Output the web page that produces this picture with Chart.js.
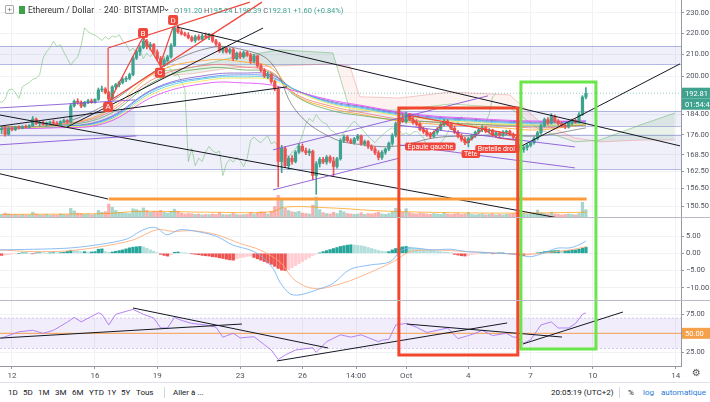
<!DOCTYPE html>
<html>
<head>
<meta charset="utf-8">
<title>Ethereum / Dollar 240</title>
<script src="https://cdn.jsdelivr.net/npm/chart.js@4.4.1/dist/chart.umd.min.js"></script>
<style>
  html, body { margin: 0; padding: 0; background: #fff; }
  #wrap { position: relative; width: 710px; height: 402px; overflow: hidden; font-family: Roboto, "DejaVu Sans", sans-serif; color: #131722; }
  canvas { position: absolute; left: 0; }
  #cPrice { top: 0; }
  #cMacd { top: 218px; }
  #cRsi { top: 301px; }
  .sep { position: absolute; left: 0; width: 710px; height: 1px; background: #b8bbc3; }
  #hdr { position: absolute; left: 0; top: 0; height: 20px; width: 400px; font-size: 8.5px; color: #333; }
  #hdr span { position: absolute; top: 5px; white-space: nowrap; }
  #hdr .ic { left: 5px; top: 5px; width: 7px; height: 7px; border: 1px solid #aaa; border-radius: 1px; font-size: 8px; line-height: 7px; text-align: center; color: #777; }
  #hdr .sq { left: 19px; top: 6px; width: 6px; height: 8px; background: #3fa24a; }
  #hdr .ohlc { left: 174px; top: 6px; font-size: 7.5px; color: #3fa28f; }
  #hdr .ohlc i { font-style: normal; color: #666; }
  #bar { position: absolute; left: 0; top: 382px; width: 710px; height: 20px; border-top: 1px solid #e0e3eb; font-size: 8px; color: #131722; }
  #bar span { position: absolute; top: 5px; white-space: nowrap; }
  #bar .blue { color: #2a7bd8; }
  #bar .dv { width: 1px; height: 11px; top: 4px; background: #d6d8de; }
  #gear { position: absolute; left: 692px; top: 367px; font-size: 10px; color: #555; }
</style>
</head>
<body>
<div id="wrap">
  <canvas id="cPrice" width="710" height="217"></canvas>
  <div class="sep" style="top:217px"></div>
  <canvas id="cMacd" width="710" height="82"></canvas>
  <div class="sep" style="top:300px"></div>
  <canvas id="cRsi" width="710" height="81"></canvas>
  <div id="hdr">
    <span class="ic">+</span><span class="sq"></span>
    <span style="left:28px">Ethereum / Dollar</span>
    <span style="left:99px">·</span>
    <span style="left:104px">240</span>
    <span style="left:119px">·</span>
    <span style="left:124px">BITSTAMP</span>
    <span style="left:163px;top:3px">⌄</span>
    <span class="ohlc"><i>O</i>191.20 <i>H</i>195.24 <i>L</i>190.39 <i>C</i>192.81 +1.60 (+0.84%)</span>
  </div>
  <div id="gear">⚙</div>
  <div id="bar">
    <span style="left:8px">1D</span><span style="left:23px">5D</span><span style="left:38px">1M</span>
    <span style="left:55px">3M</span><span style="left:72px">6M</span><span style="left:89px">YTD</span>
    <span style="left:107px">1Y</span><span style="left:121px">5Y</span><span style="left:136px">Tous</span>
    <span class="dv" style="left:164px"></span>
    <span style="left:173px">Aller à ...</span>
    <span style="left:551px">20:05:19 (UTC+2)</span>
    <span class="dv" style="left:619px"></span>
    <span style="left:628px">%</span>
    <span class="blue" style="left:643px">log</span>
    <span class="blue" style="left:661px">automatique</span>
  </div>
</div>
<script>
// ---- axes ----
const X_MIN = -0.47, X_MAX = 196.5;   // candle index range of the plot width
const dateTicks = [3, 27, 45, 69, 87, 102.5, 117, 135, 153, 171, 195];
const dateLabels = ['12', '16', '19', '23', '26', '14:00', 'Oct', '4', '7', '10', '14'];
const priceTicks = [150.5, 156.5, 162.5, 168.5, 176, 184, 200, 210, 220, 230];
const macdTicks = [-10, -5, 0, 5];
const rsiTicks = [25, 50, 75];

// ---- 4h candles: [open, high, low, close] ----
const ohlc = [
  [178.0,179.0,176.5,178.5],[178.5,179.2,175.5,176.2],[176.2,178.8,175.8,178.5],[178.5,179.0,177.5,178.0],
  [178.0,179.3,177.6,179.0],[179.0,179.5,178.2,178.6],[178.6,179.6,178.3,179.3],[179.3,179.8,178.6,178.9],
  [178.9,180.0,178.7,179.6],[179.6,183.2,179.2,182.2],[182.2,182.6,180.0,180.4],[180.4,181.2,179.5,180.8],
  [180.8,181.5,179.8,180.0],[180.0,181.0,179.4,180.6],[180.6,181.4,180.0,181.0],[181.0,181.8,180.2,180.5],
  [180.5,181.2,179.6,180.0],[180.0,181.5,179.8,181.2],[181.2,182.2,180.8,181.6],[181.6,182.0,180.6,181.0],
  [181.0,188.5,180.6,187.6],[187.6,190.0,187.0,189.4],[189.4,190.5,188.2,189.0],[189.0,189.6,186.8,187.4],
  [187.4,189.4,187.0,189.0],[189.0,190.2,188.4,189.6],[189.6,190.4,188.6,189.0],[189.0,190.5,188.6,190.2],
  [190.2,195.0,189.8,194.2],[194.2,195.8,193.5,194.6],[194.6,195.2,192.5,193.0],[193.0,193.6,189.2,190.6],
  [190.6,196.0,190.2,195.5],[195.5,197.0,194.5,196.5],[196.5,198.0,195.5,197.4],[197.4,199.5,196.8,198.8],
  [198.8,200.0,197.8,199.2],[199.2,201.5,198.5,200.8],[200.8,209.0,200.2,208.2],[208.2,212.0,207.5,211.2],
  [211.2,214.0,209.5,213.0],[213.0,217.6,212.5,216.0],[216.0,217.0,212.5,213.5],[213.5,215.5,212.0,214.5],
  [214.5,215.0,210.0,211.0],[211.0,212.0,207.0,208.0],[208.0,209.0,203.8,205.0],[205.0,208.0,204.5,207.2],
  [207.2,209.5,206.5,208.8],[208.8,215.0,208.2,214.0],[214.0,223.5,213.5,222.5],[222.5,223.2,219.8,220.6],
  [220.6,221.8,219.0,219.6],[219.6,220.5,218.5,219.0],[219.0,220.2,217.2,217.8],[217.8,218.6,215.8,216.4],
  [216.4,219.0,215.5,218.2],[218.2,219.2,216.5,217.0],[217.0,219.5,216.5,218.6],[218.6,220.0,217.5,218.0],
  [218.0,219.8,216.8,219.2],[219.2,219.6,215.5,216.2],[216.2,217.0,214.0,214.8],[214.8,215.5,210.8,211.5],
  [211.5,213.5,210.5,212.8],[212.8,213.2,210.5,211.0],[211.0,212.8,210.2,212.2],[212.2,212.8,207.0,208.0],
  [208.0,211.0,207.5,210.5],[210.5,211.2,208.0,208.8],[208.8,211.5,208.2,210.8],[210.8,211.5,209.0,209.6],
  [209.6,210.5,205.8,206.8],[206.8,210.0,206.0,209.2],[209.2,209.6,204.0,204.8],[204.8,205.5,202.0,202.8],
  [202.8,203.5,199.5,200.2],[200.2,201.8,199.0,201.0],[201.0,201.5,197.0,197.8],[197.8,198.5,193.8,194.6],
  [194.6,195.5,157.0,166.0],[166.0,172.0,162.0,170.8],[170.8,171.5,163.8,164.5],[164.5,168.0,163.2,167.2],
  [167.2,168.2,165.0,166.0],[166.0,170.0,165.5,169.5],[169.5,172.5,169.0,171.6],[171.6,172.5,169.5,170.0],
  [170.0,171.0,168.5,169.2],[169.2,170.6,168.2,169.8],[169.8,170.2,159.5,161.0],[161.0,166.0,154.5,165.2],
  [165.2,167.5,164.0,166.8],[166.8,167.5,165.2,165.8],[165.8,168.2,165.0,167.6],[167.6,168.2,165.5,166.2],
  [166.2,167.6,161.0,164.2],[164.2,167.5,163.6,167.0],[167.0,174.5,166.5,173.8],[173.8,176.0,173.0,175.2],
  [175.2,175.8,173.2,173.8],[173.8,174.5,172.6,173.0],[173.0,175.0,172.4,174.5],[174.5,176.2,173.8,175.6],
  [175.6,176.0,172.0,172.5],[172.5,174.0,171.8,173.4],[173.4,173.8,170.8,171.6],[171.6,172.2,170.0,170.6],
  [170.6,171.4,168.5,169.2],[169.2,170.0,166.6,167.5],[167.5,170.0,166.8,169.4],[169.4,171.0,168.6,170.6],
  [170.6,173.2,170.0,172.8],[172.8,176.5,172.0,175.8],[175.8,181.0,175.2,180.4],[180.4,183.0,179.0,182.5],
  [182.5,184.0,180.8,181.2],[181.2,185.0,180.6,184.0],[184.0,184.5,181.5,182.0],[182.0,183.0,180.2,180.8],
  [180.8,182.0,179.5,180.2],[180.2,180.8,177.5,178.0],[178.0,179.0,176.5,177.2],[177.2,178.2,175.5,176.0],
  [176.0,177.0,174.6,175.4],[175.4,177.5,175.0,177.0],[177.0,178.8,176.2,178.2],[178.2,180.5,177.6,180.0],
  [180.0,182.2,179.4,181.4],[181.4,182.0,179.6,180.0],[180.0,180.8,178.0,178.6],[178.6,179.4,176.5,177.0],
  [177.0,177.6,174.8,175.4],[175.4,176.4,173.5,174.2],[174.2,175.0,172.2,173.0],[173.0,175.0,171.4,174.6],
  [174.6,176.2,174.0,175.6],[175.6,177.5,175.0,177.0],[177.0,178.6,176.5,178.0],[178.0,179.6,177.2,178.8],
  [178.8,179.2,176.8,177.4],[177.4,178.4,176.6,177.8],[177.8,178.2,175.4,176.0],[176.0,177.4,175.0,176.8],
  [176.8,177.2,175.2,175.8],[175.8,177.6,175.4,177.0],[177.0,177.8,176.0,177.4],[177.4,177.8,175.6,176.2],
  [176.2,176.8,174.4,175.0],[175.0,175.6,171.0,171.8],[171.8,172.4,169.6,170.4],[170.4,171.8,169.4,171.2],
  [171.2,172.6,170.2,172.0],[172.0,173.6,171.4,173.0],[173.0,175.2,172.4,174.6],[174.6,177.4,174.0,176.8],
  [176.8,180.2,176.2,179.6],[179.6,182.6,179.0,182.0],[182.0,182.8,180.0,180.6],[180.6,184.4,180.2,183.2],
  [183.2,183.8,180.8,181.4],[181.4,182.0,179.8,180.4],[180.4,181.2,179.0,179.6],[179.6,180.4,178.4,179.0],
  [179.0,181.2,178.6,180.6],[180.6,182.2,180.0,181.6],[181.6,182.2,180.4,181.0],[181.0,184.8,180.6,184.0],
  [184.0,191.8,183.6,191.2],[191.2,195.24,190.39,192.81]
];
const volume = [
  12,18,14,10,12,9,11,8,10,22,14,10,9,12,8,10,9,14,12,10,
  40,28,18,16,12,14,10,12,30,22,
  25,60,45,30,22,20,18,16,38,34,
  28,42,30,22,26,24,30,22,18,26,
  36,26,18,14,16,15,12,14,10,12,
  11,14,12,20,12,10,12,18,12,10,
  11,12,20,14,18,24,22,14,26,48,
  100,82,40,30,24,22,26,18,16,14,
  55,92,34,20,16,14,22,16,30,24,
  16,14,12,14,20,12,16,14,18,22,
  14,12,16,26,40,34,22,38,20,16,
  14,18,16,14,12,16,14,12,20,14,
  12,14,16,12,14,20,12,10,12,14,
  10,12,14,10,12,10,12,14,16,24,
  20,16,12,14,18,32,20,16,14,22,
  14,12,10,12,14,12,10,16,68,34
];
const volMA = [[0,12],[30,16],[40,26],[60,22],[78,24],[82,46],[95,42],[110,28],[130,20],[150,18],[169,22]];

// ---- moving-average ribbon, sampled at these candle indices ----
const ribbonIdx = [0, 15, 30, 45, 60, 70, 78, 85, 95, 105, 115, 125, 135, 145, 155, 169];
const maOrange  = [179.1,179.8,185.0,202.0,207.4,206.5,203.8,192.1,186.7,183.8,181.4,180.2,179.5,178.7,177.9,180.2];
const maSalmon  = [179.1,179.8,184.2,199.8,205.1,204.2,202.0,192.5,187.5,184.6,182.2,181.0,180.2,179.5,178.7,179.8];
const maGreen   = [179.1,179.5,183.4,198.5,203.8,202.9,201.5,191.6,185.8,183.4,181.8,181.0,180.2,179.8,179.5,179.8];
const maPurple  = [178.7,179.1,182.2,195.4,200.7,201.5,200.7,194.2,189.5,187.1,184.6,183.0,182.2,181.4,181.0,181.4];
const maBlue    = [178.7,179.1,181.8,195.0,199.8,200.7,199.8,194.2,189.1,186.7,184.2,182.6,181.8,181.0,180.6,181.0];
const maCyan    = [178.7,179.1,181.4,194.2,199.3,199.8,199.3,194.2,188.7,186.3,183.8,182.2,181.4,180.6,180.2,180.6];
const maYellow  = [178.7,179.1,181.0,193.3,198.5,199.3,198.5,193.7,188.3,185.8,183.4,181.8,181.0,180.2,179.8,180.2];
const maMagenta = [178.7,178.7,180.6,192.1,197.2,197.2,196.3,193.7,190.0,187.5,185.0,183.4,182.6,181.8,181.4,181.4];
const maGrey    = [178.7,179.8,187.9,202.9,212.9,212.0,206.0,185.8,175.2,172.1,171.8,174.8,175.6,176.0,175.6,178.7];

// ---- ichimoku cloud spans ----
const cloudIdx = [43.8, 54.5, 66.1, 80.5, 95.8, 100.7, 103.6, 115.2, 129.7, 147.0, 155.7, 165.8, 173.0, 184.6, 194.7];
const spanA = [202.0,203.8,208.3,212.0,210.6,185.8,185.8,185.8,188.3,186.7,177.9,173.3,174.0,179.8,184.6];
const spanB = [200.2,201.1,203.8,204.7,205.6,204.7,191.3,190.8,193.3,192.1,181.0,174.8,173.3,174.0,174.0];

// ---- drawings on the price panel: [candle index, price] ----
const zones = [[205.6, 213.8], [179.5, 185.5], [163.3, 176.0]];
const leftZone = [-0.5, 38.6, 175.2, 185.5];
const blackLines = [
  [[-0.5,183.8],[161.5,146.6]],
  [[50.7,222.9],[196.2,171.8]],
  [[-0.5,161.6],[30.8,152.9]],
  [[18.9,179.0],[75.6,222.4]],
  [[-0.5,179.4],[82.5,195.5]],
  [[149.9,171.4],[196.2,205.6]]
];
const purpleLines = [
  [[-0.5,186.7],[38.6,190.0]],
  [[-0.5,172.2],[39.0,175.6]],
  [[78.5,156.0],[115.2,167.3]],
  [[78.5,170.3],[140.7,191.7]],
  [[114.6,179.8],[165.8,171.4]],
  [[114.6,172.2],[165.8,163.7]]
];
const abcdLines = [
  [[31.3,189.6],[40.9,218.1],[45.8,205.1],[49.6,222.9]],
  [[30.8,189.6],[30.8,212.9]],
  [[30.8,212.9],[71.8,235.4]],
  [[31.3,189.6],[75.3,235.4]]
];
const hsLines = [
  [[117.5,183.8],[123.9,175.9],[128.2,181.0],[134.6,172.9],[139.2,178.3],[143.6,174.8],[148.5,174.0]],
  [[117.5,183.8],[149.1,175.9]]
];
const supportLine = [[31.0,152.9],[169.2,152.9]];
const abcdLabels = ['A', 'B', 'C', 'D'];
const abcdPts = [[30.8,187.1],[40.9,220.0],[45.8,201.6],[49.6,226.3]];
const hsLabels = ['Épaule gauche', 'Tête', 'Bretelle droi'];
const hsPts = [[124.0,171.6],[135.7,168.8],[143.1,170.6]];
const lastPrice = 192.81, countdown = '01:54:41';
// boxes across the three panels: x range, top price, bottom RSI value
const redBox = { x0: 114.9, x1: 149.3, top: 186.7, rsiBottom: 21.4 };
const greenBox = { x0: 150.2, x1: 171.9, top: 197.6, rsiBottom: 29.4 };

// ---- MACD ----
const macdHist = [
  -0.6,-0.5,-0.4,
  -0.2,-0.1,0,0.1,0.1,0,-0.1,0.1,0.2,0.1,0,0.1,0.2,0.1,0.2,0.3,
  0.6,0.9,0.8,0.7,0.5,0.5,0.4,0.4,0.5,1.2,1.3,0.5,0.3,
  0.4,0.6,0.8,1.0,1.3,1.6,1.8,1.9,2.0,1.9,1.5,1.0,0.6,0.2,
  -0.3,-0.6,-0.8,-0.4,0.3,0.4,0.2,0.1,0,-0.1,
  -0.3,-0.4,-0.6,-0.7,-0.8,-1.0,-1.1,-1.3,-1.5,-1.7,-1.9,-2.0,
  -1.6,-1.3,-1.1,-0.9,-0.8,
  -1.2,-1.6,-2.0,-2.4,-2.8,-3.2,-3.8,-4.4,-4.9,-5.0,-4.8,
  -4.2,-3.6,-3.0,-2.4,-1.8,-1.2,-0.6,-0.2,0.1,
  0.5,0.8,1.1,1.4,1.7,2.0,2.2,2.4,2.5,2.4,2.3,2.2,
  2.0,1.7,1.4,1.1,0.8,0.6,0.5,0.5,
  1.0,1.4,1.7,1.9,2.0,1.8,
  1.6,1.4,1.3,1.1,1.0,0.9,0.8,0.6,0.5,0.4,0.3,0.2,
  -0.3,-0.5,-0.7,-0.8,-0.6,-0.4,
  -0.2,-0.1,0.1,0.1,0,-0.1,0,0.1,0.1,0,-0.1,-0.2,-0.4,
  -0.6,-0.7,-0.5,-0.3,-0.2,0.1,0.3,
  0.5,0.6,0.7,0.8,0.8,0.7,0.7,0.8,0.9,1.0,1.2,1.5,1.8
];
const macdLine = [[-0.5,1.0],[18.9,1.5],[28.5,2.6],[36.3,4.2],[40,6.4],[42.9,7.5],[44.9,7.4],[47.8,5.4],[51.6,6.9],
  [57.4,6.2],[62.3,4.9],[66.9,2.4],[71.8,1.0],[74.7,-0.5],[78.5,-4.4],[80.5,-8.4],[83.4,-11.8],[86.3,-12.1],
  [92.1,-10.3],[95.8,-8.8],[100.7,-4.7],[106.5,-3.4],[112.3,-2.5],[115.2,0.5],[117.2,1.5],[120.1,1.5],
  [124.7,1.0],[129.7,1.2],[134.6,0.5],[139.2,0.3],[144.1,0],[149.0,-0.3],[152.8,-1.0],[156.6,0],[160.6,1.5],
  [164.4,1.6],[167.3,2.6],[169,3.6]];
const signalLine = [[-0.5,1.0],[9.1,0.5],[18.9,0.7],[28.5,1.9],[38,3.9],[44.9,6.9],[49.6,6.4],[55.4,6.6],[62.3,5.4],
  [68.9,2.9],[74.7,1.0],[80.5,-2.5],[84.3,-7.4],[88.3,-9.8],[92.1,-10.3],[95.8,-9.5],[100.7,-8.0],[106.5,-5.6],
  [113.2,-2.5],[118.1,0.5],[124.7,1.0],[134.6,0.5],[144.1,0],[151.9,-0.3],[158.6,0.3],[164.4,1.0],[169,1.9]];

// ---- RSI ----
const rsiLine = [[0,43.7],[5,52],[9,54],[12,50],[15,54],[19,64.7],[21,71],[23,65],[28,77],[29,75],[31,61],[33,75],
  [38,81.5],[41,75],[44,70],[46,57],[48,57],[50,71],[52,67],[55,63],[59,61],[62,58],[64,45],[67,50],[69,44],
  [73,45.5],[76,35],[78,28],[80,15.5],[82,21.5],[85,28],[90,31],[91,25],[94,39],[98,48],[101,45],[104,48],
  [109,39],[110,41],[112,42],[114,61],[117,63],[120,58],[123,51],[126,54],[129,57],[132,43],[135,47],[137,50],
  [139,54],[142,47],[146,50],[148,45],[149,45],[151,37],[153,41.5],[156,61],[159,65],[161,57],[164,57],
  [166,63],[168,75],[169,77]];
const rsiTrends = [
  [[-0.5,43.7],[69.5,62.2]],
  [[38,83.3],[94.4,30.7]],
  [[79.6,13.6],[146.2,63.6]],
  [[117.2,62.2],[162.1,45.1]],
  [[150.8,36],[179.7,78]]
];

// ---------------------------------------------------------------
const UP = '#3fa28f', DOWN = '#ef5350';
Chart.defaults.font.family = 'Roboto, "DejaVu Sans", sans-serif';

function xAxis(withLabels) {
  return {
    type: 'linear', min: X_MIN, max: X_MAX, offset: false,
    afterBuildTicks: s => { s.ticks = dateTicks.map(v => ({ value: v })); },
    afterFit: s => { s.height = withLabels ? 16 : 0; s.paddingLeft = 0; s.paddingRight = 0; },
    ticks: { display: withLabels, autoSkip: false, maxRotation: 0, padding: 2, color: '#50535e',
             font: { size: 8 }, callback: (v, i) => dateLabels[i] },
    grid: { color: '#f1f2f6', offset: false, drawTicks: withLabels, tickLength: 3, tickColor: '#9598a1' },
    border: { display: withLabels, color: '#9598a1' }
  };
}
function yAxis(ticks, fmt, extra) {
  return Object.assign({
    position: 'right',
    afterBuildTicks: s => { s.ticks = ticks.map(v => ({ value: v })); },
    afterFit: s => { s.width = 29; s.paddingTop = 0; s.paddingBottom = 0; },
    ticks: { autoSkip: false, padding: 2, color: '#50535e', font: { size: 7.5 }, callback: fmt },
    grid: { color: '#f1f2f6', tickLength: 3, tickColor: '#9598a1' },
    border: { color: '#9598a1' }
  }, extra);
}
function line(points, color, width, extra) {
  return Object.assign({
    type: 'line', data: points.map(p => ({ x: p[0], y: p[1] })),
    borderColor: color, borderWidth: width, pointRadius: 0, fill: false, tension: 0, order: 10
  }, extra);
}
function sampled(idx, vals) { return idx.map((x, k) => [x, vals[k]]); }
const baseOpts = {
  responsive: false, animation: false, devicePixelRatio: 1, events: [],
  layout: { padding: 0 }
};

// horizontal zones behind the candles
const zonePlugin = {
  id: 'zones',
  beforeDatasetsDraw(chart) {
    const { ctx, chartArea: a, scales: { x, y } } = chart;
    ctx.save();
    ctx.beginPath(); ctx.rect(a.left, a.top, a.width, a.height); ctx.clip();
    const box = (x0, x1, lo, hi, edge) => {
      const yt = y.getPixelForValue(hi), yb = y.getPixelForValue(lo);
      ctx.fillStyle = 'rgba(110,118,200,0.11)';
      ctx.fillRect(x0, yt, x1 - x0, yb - yt);
      if (edge) {
        ctx.strokeStyle = 'rgba(120,128,205,0.55)'; ctx.lineWidth = 1;
        ctx.beginPath();
        ctx.moveTo(x0, Math.round(yt) + 0.5); ctx.lineTo(x1, Math.round(yt) + 0.5);
        ctx.moveTo(x0, Math.round(yb) + 0.5); ctx.lineTo(x1, Math.round(yb) + 0.5);
        ctx.stroke();
      }
    };
    zones.forEach(z => box(a.left, a.right, z[0], z[1], true));
    box(x.getPixelForValue(leftZone[0]), x.getPixelForValue(leftZone[1]), leftZone[2], leftZone[3], false);
    ctx.restore();
  }
};

// text tags: pattern letters, pattern names, price tags on the axis
function roundBox(ctx, cx, cy, w, h, color) {
  ctx.fillStyle = color;
  ctx.beginPath(); ctx.roundRect(cx - w / 2, cy - h / 2, w, h, 2); ctx.fill();
}
const tagPlugin = {
  id: 'tags',
  afterDraw(chart, args, opts) {
    const { ctx, chartArea: a, scales: { x, y } } = chart;
    ctx.save();
    ctx.textAlign = 'center'; ctx.textBaseline = 'middle';
    (opts.marks || []).forEach(m => {
      const px = x.getPixelForValue(m.at[0]), py = y.getPixelForValue(m.at[1]);
      ctx.font = m.font;
      const w = m.w || ctx.measureText(m.text).width + 5;
      roundBox(ctx, px, py, w, m.h, '#f0453a');
      ctx.fillStyle = '#fff'; ctx.fillText(m.text, px, py + 0.5);
    });
    (opts.axisTags || []).forEach(t => {
      const py = y.getPixelForValue(t.value) + (t.dy || 0);
      ctx.fillStyle = t.color;
      ctx.fillRect(a.right + 1, py - 5.5, chart.width - a.right - 1, 11);
      ctx.fillStyle = '#fff'; ctx.textAlign = 'left'; ctx.font = '7.5px Roboto, "DejaVu Sans", sans-serif';
      ctx.fillText(t.text, a.right + 4, py + 0.5);
    });
    ctx.restore();
  }
};

// ---------------- price panel ----------------
const priceSets = [];
priceSets.push({ type: 'bar', yAxisID: 'yVol', grouped: false, barThickness: 2.6, order: 100,
  data: volume.map((v, i) => ({ x: i, y: v })),
  backgroundColor: ohlc.map(d => d[3] >= d[0] ? 'rgba(63,162,143,0.45)' : 'rgba(239,83,80,0.45)') });
priceSets.push(line(volMA, 'rgba(255,152,0,0.7)', 1, { yAxisID: 'yVol', order: 99, tension: 0.4 }));
priceSets.push(line(sampled(cloudIdx, spanA), 'rgba(76,175,80,0.45)', 1,
  { order: 95, fill: { target: '+1', above: 'rgba(76,150,90,0.13)', below: 'rgba(244,67,54,0.07)' } }));
priceSets.push(line(sampled(cloudIdx, spanB), 'rgba(239,83,80,0.3)', 1, { order: 95 }));
priceSets.push(line(ohlc.map((d, i) => [i - 26, d[3]]), 'rgba(110,185,110,0.55)', 1, { order: 90 }));
[[maMagenta, 'rgba(224,64,251,0.8)'], [maYellow, 'rgba(250,230,90,0.9)'], [maCyan, 'rgba(77,208,225,0.85)'],
 [maBlue, 'rgba(66,140,245,0.8)'], [maPurple, 'rgba(126,87,194,0.8)'], [maGreen, 'rgba(102,170,90,0.8)'],
 [maSalmon, 'rgba(240,120,120,0.8)'], [maOrange, 'rgba(255,167,38,0.85)'], [maGrey, 'rgba(80,80,80,0.6)']]
  .forEach(([vals, c]) => priceSets.push(line(sampled(ribbonIdx, vals), c, 1, { order: 80, tension: 0.4 })));
priceSets.push(line([[X_MIN, lastPrice], [X_MAX, lastPrice]], 'rgba(63,162,143,0.55)', 1, { order: 70, borderDash: [1, 2] }));
priceSets.push({ type: 'bar', grouped: false, barThickness: 1, order: 50,
  data: ohlc.map((d, i) => ({ x: i, y: [d[2], d[1]] })),
  backgroundColor: ohlc.map(d => d[3] >= d[0] ? UP : DOWN) });
priceSets.push({ type: 'bar', grouped: false, barThickness: 2.6, order: 49,
  data: ohlc.map((d, i) => ({ x: i, y: [d[0], d[3]] })),
  backgroundColor: ohlc.map(d => d[3] >= d[0] ? UP : DOWN) });
purpleLines.forEach(p => priceSets.push(line(p, 'rgba(130,80,210,0.85)', 1)));
blackLines.forEach(p => priceSets.push(line(p, '#131722', 1)));
abcdLines.forEach(p => priceSets.push(line(p, '#f0453a', 1.2)));
hsLines.forEach(p => priceSets.push(line(p, '#f0453a', 1.2)));
priceSets.push(line(supportLine, '#ff9a3c', 3, { order: 5 }));
priceSets.push(line([[redBox.x0, 100], [redBox.x0, redBox.top], [redBox.x1, redBox.top], [redBox.x1, 100]], '#f2462d', 3, { order: 4 }));
priceSets.push(line([[greenBox.x0, 100], [greenBox.x0, greenBox.top], [greenBox.x1, greenBox.top], [greenBox.x1, 100]], '#6be64a', 3, { order: 4 }));

new Chart(document.getElementById('cPrice'), {
  type: 'bar',
  data: { datasets: priceSets },
  options: Object.assign({}, baseOpts, {
    plugins: {
      legend: { display: false }, tooltip: { enabled: false },
      tags: {
        marks: abcdLabels.map((t, k) => ({ text: t, at: abcdPts[k], w: 10, h: 10, font: '8px Roboto, "DejaVu Sans", sans-serif' }))
          .concat(hsLabels.map((t, k) => ({ text: t, at: hsPts[k], h: 8, font: '7px Roboto, "DejaVu Sans", sans-serif' }))),
        axisTags: [{ value: lastPrice, text: lastPrice.toFixed(2), color: UP },
                   { value: lastPrice, dy: 11, text: countdown, color: UP }]
      }
    },
    scales: {
      x: xAxis(false),
      y: yAxis(priceTicks, v => Number(v).toFixed(2), { type: 'logarithmic', min: 147.0, max: 236.5 }),
      yVol: { axis: 'y', type: 'linear', display: false, min: 0, max: 1000 }
    }
  }),
  plugins: [zonePlugin, tagPlugin]
});

// ---------------- MACD panel ----------------
const histColors = macdHist.map((v, i) => {
  const prev = i ? macdHist[i - 1] : v;
  if (v >= 0) return v >= prev ? '#26a69a' : '#b2dfdb';
  return v <= prev ? '#ef5350' : '#ffcdd2';
});
new Chart(document.getElementById('cMacd'), {
  type: 'bar',
  data: { datasets: [
    { type: 'bar', barThickness: 2.6, order: 20, data: macdHist.map((v, i) => ({ x: i, y: v })), backgroundColor: histColors },
    line(macdLine, 'rgba(120,180,245,0.85)', 1, { order: 10, tension: 0.3 }),
    line(signalLine, 'rgba(255,170,120,0.85)', 1, { order: 11, tension: 0.3 }),
    line([[redBox.x0, -50], [redBox.x0, 50]], '#f2462d', 3, { order: 4 }),
    line([[redBox.x1, -50], [redBox.x1, 50]], '#f2462d', 3, { order: 4 }),
    line([[greenBox.x0, -50], [greenBox.x0, 50]], '#6be64a', 3, { order: 4 }),
    line([[greenBox.x1, -50], [greenBox.x1, 50]], '#6be64a', 3, { order: 4 })
  ] },
  options: Object.assign({}, baseOpts, {
    plugins: { legend: { display: false }, tooltip: { enabled: false } },
    scales: {
      x: xAxis(false),
      y: yAxis(macdTicks, v => Number(v).toFixed(2).replace('-', '\u2212'), { type: 'linear', min: -13.6, max: 10.3 })
    }
  })
});

// ---------------- RSI panel ----------------
new Chart(document.getElementById('cRsi'), {
  type: 'line',
  data: { datasets: [
    line([[X_MIN, 70], [X_MAX, 70]], 'rgba(150,120,210,0.35)', 1, { order: 30, borderDash: [2, 2], fill: { target: '+1', above: 'rgba(150,110,220,0.12)', below: 'rgba(150,110,220,0.12)' } }),
    line([[X_MIN, 30], [X_MAX, 30]], 'rgba(150,120,210,0.35)', 1, { order: 30, borderDash: [2, 2] }),
    line([[X_MIN, 50], [X_MAX, 50]], '#f5a04a', 1, { order: 25 }),
    line(rsiLine, 'rgba(175,125,245,0.95)', 1, { order: 20 })
  ].concat(rsiTrends.map(p => line(p, '#131722', 1)), [
    line([[redBox.x0, 200], [redBox.x0, redBox.rsiBottom], [redBox.x1, redBox.rsiBottom], [redBox.x1, 200]], '#f2462d', 3, { order: 4 }),
    line([[greenBox.x0, 200], [greenBox.x0, greenBox.rsiBottom], [greenBox.x1, greenBox.rsiBottom], [greenBox.x1, 200]], '#6be64a', 3, { order: 4 })
  ]) },
  options: Object.assign({}, baseOpts, {
    plugins: {
      legend: { display: false }, tooltip: { enabled: false },
      tags: { axisTags: [{ value: 50, text: '50.00', color: '#f5a04a' }] }
    },
    scales: {
      x: xAxis(true),
      y: yAxis(rsiTicks, v => Number(v).toFixed(2), { type: 'linear', min: 7, max: 92.5 })
    }
  }),
  plugins: [tagPlugin]
});
</script>
</body>
</html>
